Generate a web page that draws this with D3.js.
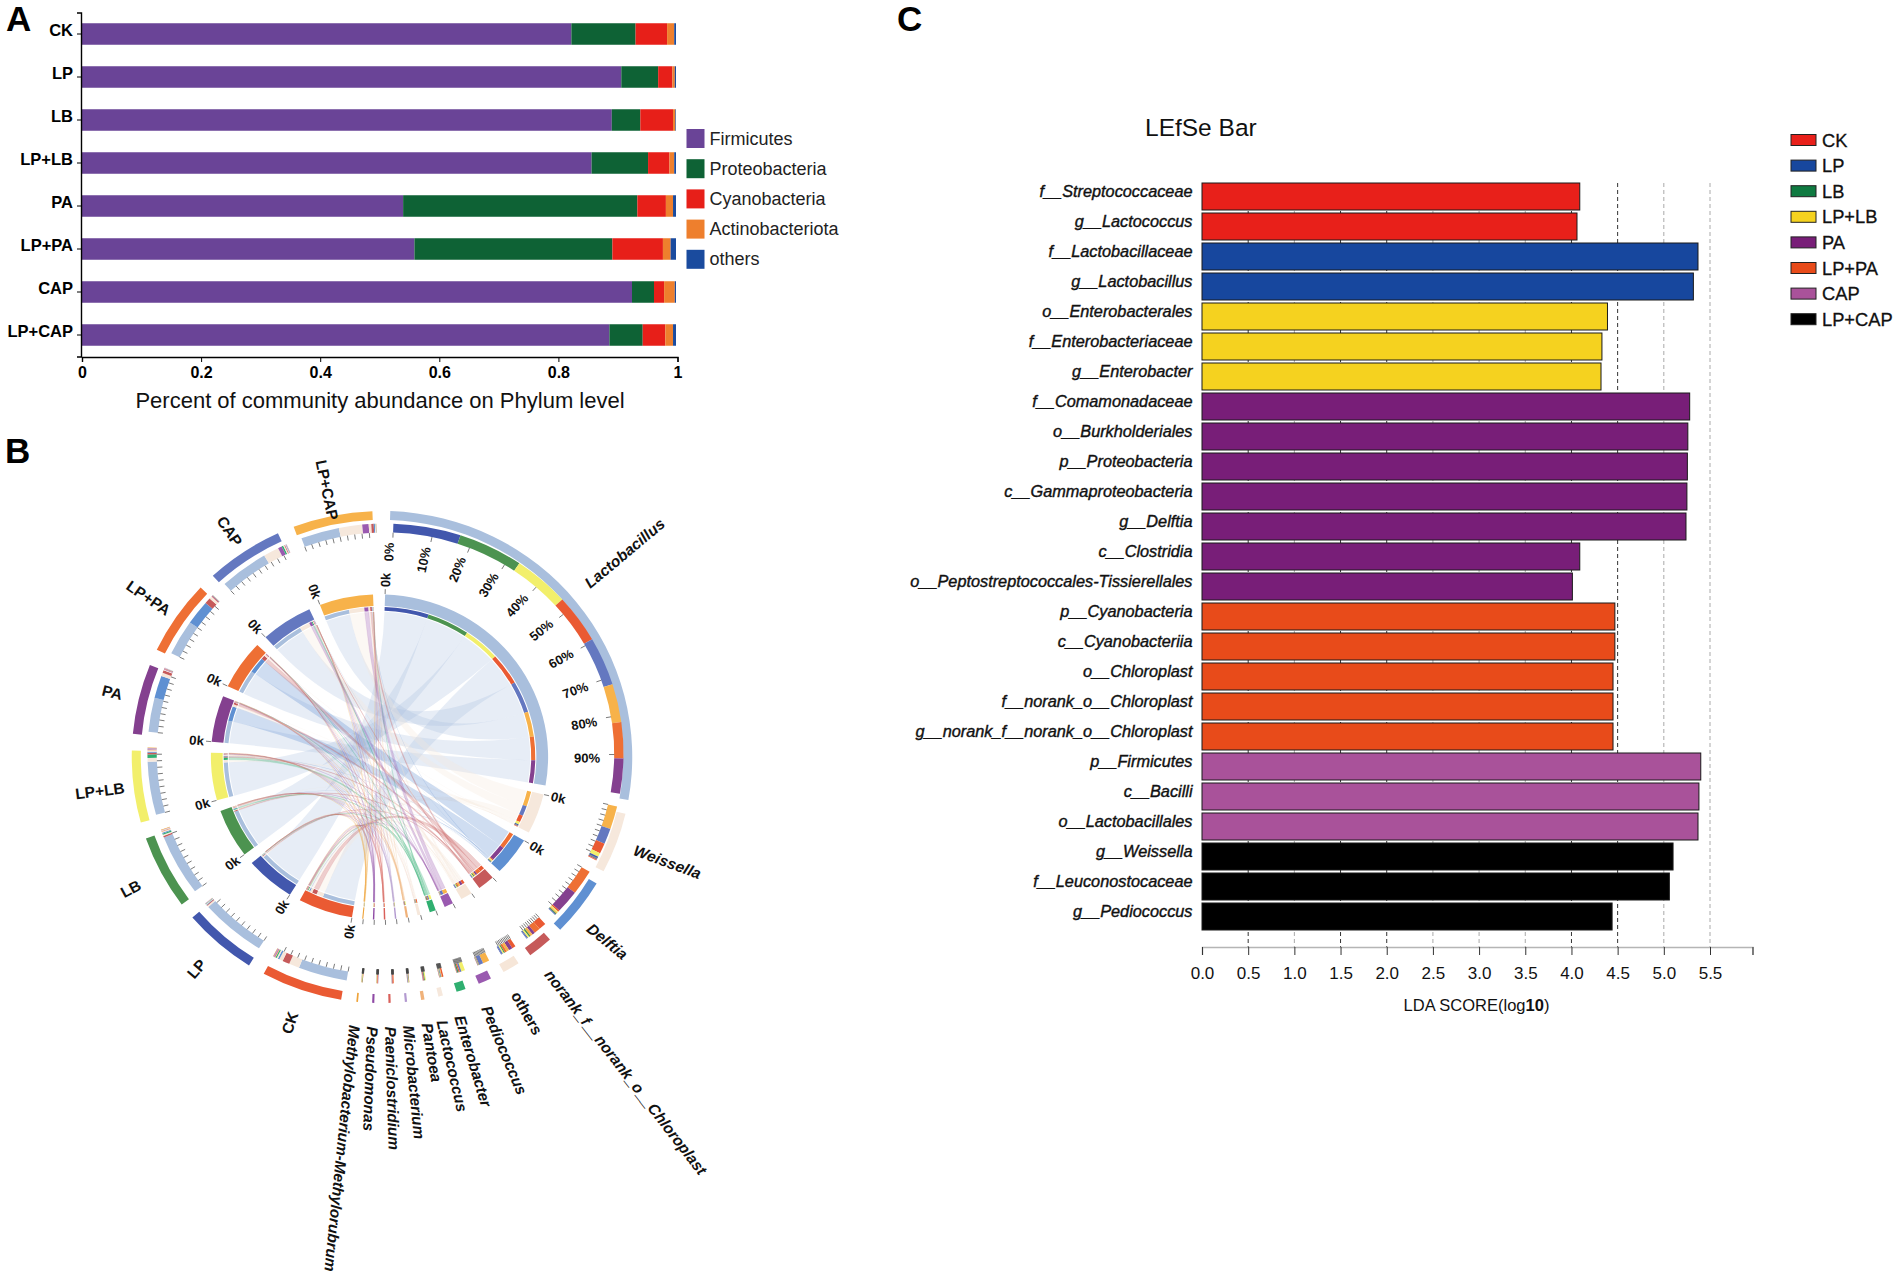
<!DOCTYPE html>
<html><head><meta charset="utf-8">
<script src="https://cdn.jsdelivr.net/npm/d3@7/dist/d3.min.js"></script>
<style>
html,body{margin:0;padding:0;background:#fff}
svg{display:block;font-family:"Liberation Sans",Arial,sans-serif}
</style></head><body><svg id="c" width="1902" height="1280"></svg>
<script>
// ---------- Panel A ----------
const treatments = ["CK","LP","LB","LP+LB","PA","LP+PA","CAP","LP+CAP"];
const phyla = ["Firmicutes","Proteobacteria","Cyanobacteria","Actinobacteriota","others"];
const phylumColors = ["#6a4497","#0e6235","#e71f19","#ee7f2d","#1a4b9e"];
const firmicutes = [.824,.908,.892,.858,.541,.560,.926,.888];
const proteobacteria = [.108,.062,.048,.095,.394,.333,.037,.056];
const cyanobacteria = [.053,.024,.055,.036,.048,.085,.017,.038];
const actinobacteriota = [.012,.004,.004,.008,.012,.013,.018,.013];
const othersPhylum = [.003,.002,.001,.003,.005,.009,.002,.005];
const abundanceTicks = [0,.2,.4,.6,.8,1];

// ---------- Panel B ----------
const genera = ["Lactobacillus","Weissella","Delftia","norank_f__norank_o__Chloroplast","others","Pediococcus","Enterobacter","Lactococcus","Pantoea","Microbacterium","Paeniclostridium","Pseudomonas","Methylobacterium-Methylorubrum"];
const generaColors = ["#a9bfdd","#f6e8dc","#5f90d2","#c65a5a","#f6e6d8","#9a5ab0","#2faf70","#f6e8dc","#f0b27a","#b39ad0","#d9605a","#8f4aa5","#eea33a"];
const groupColors = ["#ea5a33","#4257ad","#4c9350","#f2ef6b","#84408f","#ee6f34","#6478c0","#f7b24a"];
// rows: genera, columns: treatments
const lactobacillusFlow = [12.2,16.4,15.8,13.7,8.8,9.1,12.2,9.6];
const weissellaFlow     = [2.6,.4,.2,1.0,.2,.2,3.9,5.8];
const delftiaFlow       = [.4,.15,.25,.3,5.8,6.3,.1,.3];
const norankFlow        = [1.8,.2,.4,.4,.7,1.5,.2,.6];
const othersFlow        = [.9,.15,.3,.3,.9,.5,.3,.65];
const pediococcusFlow   = [.1,.05,.1,.1,.05,.05,1.0,1.6];
const enterobacterFlow  = [.3,.1,.3,.9,.05,.05,.4,.05];
const lactococcusFlow   = [.35,.05,.1,.1,.05,.05,.15,.2];
const pantoeaFlow       = [.15,.02,.2,.25,.1,.02,.02,.02];
const microbacteriumFlow= [.1,.02,.1,.1,.05,.02,.1,.02];
const paeniFlow         = [.15,.01,.01,.02,.1,.2,.01,.01];
const pseudomonasFlow   = [.1,.01,.02,.1,.12,.12,.01,.01];
const methyloFlow       = [.1,.01,.1,.1,.01,.01,.01,.05];
const flows = [lactobacillusFlow,weissellaFlow,delftiaFlow,norankFlow,othersFlow,pediococcusFlow,enterobacterFlow,lactococcusFlow,pantoeaFlow,microbacteriumFlow,paeniFlow,pseudomonasFlow,methyloFlow];
const percentLabels = ["0%","10%","20%","30%","40%","50%","60%","70%","80%","90%"];

// ---------- Panel C ----------
const ldaTaxa = ["f__Streptococcaceae","g__Lactococcus","f__Lactobacillaceae","g__Lactobacillus","o__Enterobacterales","f__Enterobacteriaceae","g__Enterobacter","f__Comamonadaceae","o__Burkholderiales","p__Proteobacteria","c__Gammaproteobacteria","g__Delftia","c__Clostridia","o__Peptostreptococcales-Tissierellales","p__Cyanobacteria","c__Cyanobacteriia","o__Chloroplast","f__norank_o__Chloroplast","g__norank_f__norank_o__Chloroplast","p__Firmicutes","c__Bacilli","o__Lactobacillales","g__Weissella","f__Leuconostocaceae","g__Pediococcus"];
const ldaScores = [4.09,4.06,5.37,5.32,4.39,4.33,4.32,5.28,5.26,5.255,5.25,5.24,4.09,4.01,4.47,4.47,4.45,4.45,4.45,5.40,5.38,5.37,5.10,5.06,4.44];
const ldaGroups = ["CK","CK","LP","LP","LP+LB","LP+LB","LP+LB","PA","PA","PA","PA","PA","PA","PA","LP+PA","LP+PA","LP+PA","LP+PA","LP+PA","CAP","CAP","CAP","LP+CAP","LP+CAP","LP+CAP"];
const ldaLegendColors = ["#e8201a","#17479e","#0f7a41","#f5d21f","#781e78","#e84b1a","#a9529a","#000000"];
const ldaTicks = [0,.5,1,1.5,2,2.5,3,3.5,4,4.5,5,5.5];
const ldaDarkGrid = [.5,1.5,2,4,4.5];

const svg = d3.select("#c");
const panelLetter = (t,x,y)=>svg.append("text").attr("x",x).attr("y",y).attr("font-size",35).attr("font-weight","bold").text(t);
panelLetter("A",6,31); panelLetter("B",5,463); panelLetter("C",897,31);

// ===== A =====
(function(){
  const a = svg.append("g");
  const x = d3.scaleLinear().domain([0,1]).range([81.5,676]);
  const y = d3.scaleBand().domain(treatments).range([12.5,356.5]).paddingInner(.5).paddingOuter(.25);
  const series = [firmicutes,proteobacteria,cyanobacteria,actinobacteriota,othersPhylum];
  const rows = treatments.map((t,i)=>{const r={t}; phyla.forEach((p,k)=>r[p]=series[k][i]); return r;});
  const stack = d3.stack().keys(phyla)(rows);
  a.selectAll("g.s").data(stack).join("g").attr("class","s").attr("fill",(d,i)=>phylumColors[i])
    .selectAll("rect").data(d=>d).join("rect")
    .attr("x",d=>x(d[0])).attr("width",d=>x(d[1])-x(d[0]))
    .attr("y",d=>y(d.data.t)).attr("height",y.bandwidth());
  const yAxis = a.append("g").attr("transform","translate(81,0)").call(d3.axisLeft(y).tickSize(4).tickPadding(4));
  yAxis.selectAll("text").attr("font-size",16.5).attr("font-weight","bold").attr("font-family","Liberation Sans").attr("dy","0.12em");
  yAxis.select(".domain").attr("stroke-width",1.4);
  const xx = d3.scaleLinear().domain([0,1]).range([82,677.5]);
  const xAxis = a.append("g").attr("transform","translate(0,357)").call(d3.axisBottom(xx).tickValues(abundanceTicks).tickFormat(d3.format("~g")).tickSize(5).tickPadding(5));
  xAxis.selectAll("text").attr("font-size",16).attr("font-weight","bold").attr("font-family","Liberation Sans");
  xAxis.select(".domain").attr("stroke-width",1.4);
  a.append("text").attr("x",380).attr("y",408).attr("text-anchor","middle").attr("font-size",22).attr("fill","#111").text("Percent of community abundance on Phylum level");
  const l = a.selectAll("g.l").data(phyla).join("g").attr("class","l").attr("transform",(d,i)=>`translate(686.5,${129+i*30.2})`);
  l.append("rect").attr("width",18).attr("height",19).attr("fill",(d,i)=>phylumColors[i]);
  l.append("text").attr("x",23).attr("y",15.5).attr("font-size",18).attr("fill","#222").text(d=>d);
})();

// ===== B =====
(function(){
  const gOut = svg.append("g").attr("transform","translate(382,757) scale(1.005,0.988)");
  const gTrack = svg.append("g").attr("transform","translate(385.5,753.5) scale(1.035,1)");
  const gIn = svg.append("g").attr("transform","translate(379.5,757) scale(1.025,0.988)");
  const rad = Math.PI/180;
  const genusGap = 3.25*rad, groupGap = 3.9*rad;
  const genusTotal = d3.sum(flows.flat());
  const genusStart = 1.9*rad, groupStart = 189.4*rad, groupEnd = 357.8*rad;
  const genusAng = d3.scaleLinear().domain([0,genusTotal]).range([0,groupStart-3.5*rad-genusStart-(genera.length-1)*genusGap]);
  const groupAng = d3.scaleLinear().domain([0,genusTotal]).range([0,groupEnd-groupStart-(treatments.length-1)*groupGap]);
  const sectors = [];
  const sub = {};
  let cur = genusStart;
  const place = (name,kind,idx,vals,ang,gap)=>{
    const items = vals.map((v,k)=>({k,v})).sort((p,q)=>d3.descending(p.v,q.v));
    const s = {name,kind,idx,start:cur,items};
    items.forEach(it=>{it.a0=cur; cur+=ang(it.v); it.a1=cur;
      const key = kind==="gen"?`${idx}-${it.k}`:`${it.k}-${idx}`;
      sub[key]=sub[key]||{}; sub[key][kind]=it;});
    s.end=cur; cur+=gap; sectors.push(s);
  };
  genera.forEach((n,i)=>place(n,"gen",i,flows[i],genusAng,genusGap));
  cur = groupStart;
  treatments.forEach((n,j)=>place(n,"grp",j,flows.map(r=>r[j]),groupAng,groupGap));

  const arc = d3.arc();
  const bandColor = s=>s.kind==="gen"?generaColors[s.idx]:groupColors[s.idx];
  const partColor = (s,k)=>s.kind==="gen"?groupColors[k]:generaColors[k];
  const ribbon = d3.ribbon().radius(147);
  // chords
  const ch = gIn.append("g");
  flows.forEach((row,i)=>row.forEach((v,j)=>{
    const e = sub[`${i}-${j}`];
    ch.append("path").attr("d",ribbon({source:{startAngle:e.gen.a0,endAngle:e.gen.a1},target:{startAngle:e.grp.a0,endAngle:e.grp.a1}}))
      .attr("fill",generaColors[i]).attr("fill-opacity",i===0?.28:.3)
      .attr("stroke",i>2?generaColors[i]:"none").attr("stroke-opacity",.35).attr("stroke-width",.35);
  }));
  const ring = (g,r0,r1)=>sectors.forEach(s=>{
    g.append("path").attr("d",arc({innerRadius:r0,outerRadius:r1,startAngle:s.start,endAngle:s.end})).attr("fill",bandColor(s));
  });
  const track = (g,r0,r1)=>sectors.forEach(s=>s.items.forEach(it=>{
    if(it.a1>it.a0) g.append("path").attr("d",arc({innerRadius:r0,outerRadius:r1,startAngle:it.a0,endAngle:it.a1})).attr("fill",partColor(s,it.k));
  }));
  ring(gOut,240,249); track(gTrack,221,230);
  ring(gIn,153,164.5); track(gIn,148,152);

  // ticks
  const tickLine = (g,a,r0,r1,col,w)=>{const p0=d3.pointRadial(a,r0),p1=d3.pointRadial(a,r1);
    g.append("line").attr("x1",p0[0]).attr("y1",p0[1]).attr("x2",p1[0]).attr("y2",p1[1]).attr("stroke",col).attr("stroke-width",w);};
  sectors.forEach(s=>{
    const t = d3.scaleLinear().domain([0,1]).range([s.start,s.end]);
    d3.range(0,10).forEach(i=>tickLine(gTrack,t(i/10),221,216,"#444",.7));
    tickLine(gIn,s.start,165,170,"#444",.7);
  });
  const deg = a=>a/rad;
  const radial = (g,a,R,txt,size,weight,style,flip)=>{
    const d = deg(a);
    g.append("text").attr("transform",`rotate(${flip?d+90:d-90}) translate(${flip?-R:R},0)`)
      .attr("text-anchor",flip?"end":"start").attr("dy",".35em")
      .attr("font-size",size).attr("font-weight",weight).attr("font-style",style).attr("fill","#111").text(txt);
  };
  // percent labels
  const ls = sectors[0]; const pt = d3.scaleLinear().domain([0,10]).range([ls.start,ls.end]);
  percentLabels.forEach((p,i)=>{const d=deg(pt(i));
    gOut.append("text").attr("transform",`rotate(${d-90}) translate(217,0)`).attr("text-anchor","end").attr("dy",".35em")
      .attr("font-size",13).attr("font-weight","bold").attr("fill","#111").text(p);});
  // 0k labels
  sectors.forEach((s,i)=>{ if(i<3||s.kind==="grp") radial(gIn,s.start,172,"0k",13,"bold","normal",deg(s.start)>186); });
  // names
  const flipRadius = d=> d>335?245 : d>300?258 : d>280?266 : d>250?258 : 273;
  const nameShift = d=> d<100?-1.5 : (d>120&&d<165)?2 : (d>=165&&d<170)?1 : 0;
  sectors.forEach(s=>{
    const mid=(s.start+s.end)/2, d=deg(mid), flip=d>186;
    const R = flip?flipRadius(d):(d>140?273:268);
    radial(gOut,mid+nameShift(d)*rad,R,s.name,15.5,"bold",s.kind==="gen"&&s.name!=="others"?"italic":"normal",flip);
  });
})();

// ===== C =====
(function(){
  const c = svg.append("g");
  const x = d3.scaleLinear().domain([0,5.5]).range([1202,1710]);
  const y = d3.scaleBand().domain(ldaTaxa).range([181.5,931.5]).paddingInner(.1).paddingOuter(.05);
  const col = d3.scaleOrdinal().domain(treatments).range(ldaLegendColors);
  c.selectAll("line.g").data(ldaTicks.slice(1)).join("line").attr("class","g")
    .attr("x1",d=>x(d)).attr("x2",d=>x(d)).attr("y1",183).attr("y2",947)
    .attr("stroke",d=>ldaDarkGrid.includes(d)?"#333":"#aaa").attr("stroke-width",1).attr("stroke-dasharray","4 3");
  c.selectAll("rect.b").data(ldaTaxa).join("rect").attr("class","b")
    .attr("x",x(0)).attr("width",(d,i)=>x(ldaScores[i])-x(0))
    .attr("y",d=>y(d)).attr("height",y.bandwidth())
    .attr("fill",(d,i)=>col(ldaGroups[i])).attr("stroke","#1a1a1a").attr("stroke-width",1);
  c.selectAll("text.n").data(ldaTaxa).join("text").attr("class","n")
    .attr("x",1192.5).attr("y",d=>y(d)+y.bandwidth()/2+.5).attr("text-anchor","end")
    .attr("font-size",16.3).attr("font-style","italic").attr("fill","#111").attr("stroke","#111").attr("stroke-width",.4).text(d=>d);
  const xa = d3.scaleLinear().domain([0,5.96]).range([1202,x(5.96)]);
  const ax = c.append("g").attr("transform","translate(0,947)").call(d3.axisBottom(xa).tickValues(ldaTicks.concat([5.96])).tickFormat(d=>d>5.9?"":d3.format(".1f")(d)).tickSize(8).tickPadding(12));
  ax.select(".domain").attr("stroke","#b5b5b5").attr("stroke-width",1.5);
  ax.selectAll("line").attr("stroke","#333");
  ax.selectAll("text").attr("font-size",17).attr("font-family","Liberation Sans").attr("fill","#111");
  const t = c.append("text").attr("x",1476.5).attr("y",1011).attr("text-anchor","middle").attr("font-size",16.5).attr("fill","#111");
  t.append("tspan").text("LDA SCORE(log"); t.append("tspan").attr("font-weight","bold").text("10"); t.append("tspan").text(")");
  c.append("text").attr("x",1145).attr("y",136).attr("font-size",24.5).attr("fill","#111").text("LEfSe Bar");
  const l = c.selectAll("g.l").data(treatments).join("g").attr("class","l").attr("transform",(d,i)=>`translate(1791,${134.5+i*25.6})`);
  l.append("rect").attr("width",25).attr("height",11).attr("fill",(d,i)=>ldaLegendColors[i]).attr("stroke","#222").attr("stroke-width",1);
  l.append("text").attr("x",31).attr("y",12).attr("font-size",18.3).attr("fill","#111").attr("stroke","#111").attr("stroke-width",.3).text(d=>d);
})();
</script></body></html>
